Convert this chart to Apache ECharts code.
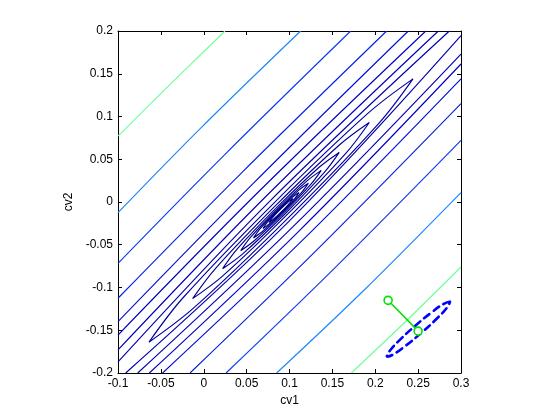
<!DOCTYPE html>
<html>
<head>
<meta charset="utf-8">
<title>cv1 / cv2 contour</title>
<script src="https://cdn.jsdelivr.net/npm/echarts@6/dist/echarts.min.js"></script>
<style>
  html, body { margin: 0; padding: 0; background: #fff; }
  #chart { width: 560px; height: 420px; }
</style>
</head>
<body>
<div id="chart"></div>
<script>
  // open contours above the diagonal: left edge -> middle -> top edge
  let upperLines = [
    [[-0.1, 0.077], [-0.049, 0.128], [0.0248, 0.2]],
    [[-0.1, -0.0125], [-0.005, 0.085], [0.113, 0.2]],
    [[-0.1, -0.0717], [0.0245, 0.0555], [0.1714, 0.2]],
    [[-0.1, -0.1126], [0.045, 0.035], [0.2133, 0.2]],
    [[-0.1, -0.14], [0.058, 0.022], [0.2386, 0.2]],
    [[-0.1, -0.1556], [0.066, 0.014], [0.259, 0.2]],
    [[-0.1, -0.173], [0.073, 0.007], [0.2736, 0.2]],
    [[-0.1, -0.187], [0.078, 0.002], [0.2864, 0.2]]
  ]
  // open contours below the diagonal: bottom edge -> middle -> right edge
  let lowerLines = [
    [[0.172, -0.2], [0.2285, -0.1465], [0.3, -0.076]],
    [[0.085, -0.2], [0.185, -0.105], [0.3, 0.011]],
    [[0.026, -0.2], [0.155, -0.075], [0.3, 0.072]],
    [[-0.016, -0.2], [0.134, -0.054], [0.3, 0.115]],
    [[-0.048, -0.2], [0.12, -0.04], [0.3, 0.144]],
    [[-0.0635, -0.2], [0.1125, -0.0325], [0.3, 0.1614]],
    [[-0.077, -0.2], [0.1065, -0.0265], [0.3, 0.173]],
    [[-0.091, -0.2], [0.101, -0.021], [0.3, 0.1945]]
  ]
  let openColors = ['#6dff94', '#1a85ff', '#0b3cf2', '#0620e0', '#0010d0', '#0000c4', '#0000b8', '#0000ac']

  // closed contours round the peak, outermost first
  let closedLines = [
    [[-0.064, -0.164], [-0.0239, -0.1117], [0.0815, -0.0015], [0.1917, 0.1039], [0.244, 0.144],
      [0.2039, 0.0917], [0.0985, -0.0185], [-0.0117, -0.1239], [-0.064, -0.164]],
    [[-0.013, -0.113], [0.0136, -0.0778], [0.084, -0.004], [0.1578, 0.0664], [0.193, 0.093],
      [0.1664, 0.0578], [0.096, -0.016], [0.0222, -0.0864], [-0.013, -0.113]],
    [[0.022, -0.078], [0.0394, -0.0546], [0.0858, -0.0058], [0.1346, 0.0406], [0.158, 0.058],
      [0.1406, 0.0346], [0.0943, -0.0143], [0.0454, -0.0606], [0.022, -0.078]],
    [[0.043, -0.057], [0.055, -0.0408], [0.087, -0.007], [0.1208, 0.025], [0.137, 0.037],
      [0.125, 0.0208], [0.093, -0.013], [0.0592, -0.045], [0.043, -0.057]],
    [[0.058, -0.042], [0.0661, -0.0309], [0.0879, -0.0079], [0.1109, 0.0139], [0.122, 0.022],
      [0.1139, 0.0109], [0.0921, -0.0121], [0.0691, -0.0339], [0.058, -0.042]],
    [[0.069, -0.031], [0.0742, -0.0236], [0.0885, -0.0085], [0.1036, 0.0058], [0.111, 0.011],
      [0.1058, 0.0036], [0.0915, -0.0115], [0.0764, -0.0258], [0.069, -0.031]],
    [[0.076, -0.024], [0.0795, -0.0191], [0.089, -0.009], [0.0991, 0.0005], [0.104, 0.004],
      [0.1005, -0.0009], [0.091, -0.011], [0.0809, -0.0205], [0.076, -0.024]]
  ]
  let closedColors = ['#0000a2', '#00009a', '#000094', '#00008e', '#000088', '#000084', '#000080']

  // dashed ellipse and the step between the two circles
  let dashedEllipse = [
    [0.2872, -0.1166], [0.2805, -0.1188], [0.2657, -0.1291], [0.2467, -0.1447],
    [0.2287, -0.1613], [0.2165, -0.1746], [0.2134, -0.181], [0.2201, -0.1788],
    [0.2349, -0.1685], [0.2539, -0.1529], [0.2719, -0.1363], [0.2841, -0.123],
    [0.2872, -0.1166]
  ]
  let stepLine = [[0.215, -0.115], [0.25, -0.151]]

  let xRange = [-0.1, 0.3]
  let yRange = [-0.2, 0.2]
  let tickStep = 0.05

  let font = "'Liberation Sans', Arial, Helvetica, sans-serif"

  function contourSeries (pts, color) {
    return {
      type: 'line',
      data: pts,
      showSymbol: false,
      smooth: 0.35,
      silent: true,
      clip: true,
      lineStyle: { width: 1.15, color: color }
    }
  }

  let series = []
  upperLines.forEach((el, i) => {
    series.push(contourSeries(el, openColors[i]))
  })
  lowerLines.forEach((el, i) => {
    series.push(contourSeries(el, openColors[i]))
  })
  closedLines.forEach((el, i) => {
    series.push(contourSeries(el, closedColors[i]))
  })
  series.push({
    type: 'line',
    data: dashedEllipse,
    showSymbol: false,
    smooth: 0.5,
    silent: true,
    z: 5,
    lineStyle: { width: 2.6, color: '#0000ff', type: [7, 5], cap: 'round' }
  })
  series.push({
    type: 'line',
    data: stepLine,
    symbol: 'circle',
    symbolSize: 8,
    showSymbol: true,
    silent: true,
    z: 6,
    lineStyle: { width: 1.5, color: '#00e000' },
    itemStyle: { color: '#ffffff', borderColor: '#00e000', borderWidth: 1.6 }
  })

  function axis (pos, range, showLabel, name) {
    let a = {
      type: 'value',
      position: pos,
      min: range[0],
      max: range[1],
      interval: tickStep,
      axisLine: { show: true, onZero: false, lineStyle: { color: '#000', width: 1 } },
      axisTick: { show: true, inside: true, length: 4, lineStyle: { color: '#000' } },
      axisLabel: { show: showLabel, color: '#000', fontSize: 12, fontFamily: font, margin: 5 },
      splitLine: { show: false }
    }
    if (name) {
      a.name = name
      a.nameLocation = 'middle'
      a.nameTextStyle = { color: '#000', fontSize: 12, fontFamily: font }
    }
    return a
  }

  let xBottom = axis('bottom', xRange, true, 'cv1')
  xBottom.nameGap = 20
  let yLeft = axis('left', yRange, true, 'cv2')
  yLeft.nameGap = 37

  let chart = echarts.init(document.getElementById('chart'))
  chart.setOption({
    animation: false,
    backgroundColor: '#ffffff',
    grid: { left: 118, top: 31, right: 99, bottom: 47 },
    xAxis: [xBottom, axis('top', xRange, false)],
    yAxis: [yLeft, axis('right', yRange, false)],
    series: series
  })
</script>
</body>
</html>
